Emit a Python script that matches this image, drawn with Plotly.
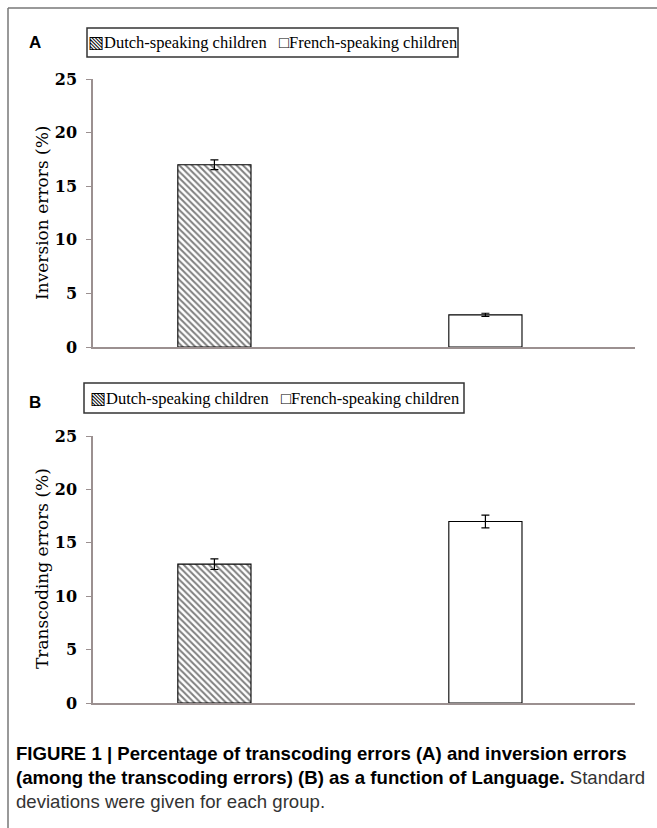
import plotly.graph_objects as go

# ---- data ----
groups = ["Dutch-speaking children", "French-speaking children"]
inversion_pct = [17.0, 3.0]
inversion_sd = [0.45, 0.15]
transcoding_pct = [13.0, 17.0]
transcoding_sd = [0.5, 0.6]
y_ticks = [0, 5, 10, 15, 20, 25]
patterns = ["\\", ""]

W, H = 657, 828


def px(x):
    return x / W


def py(y):
    return 1 - y / H


AXIS_COL = "#9b9090"
SERIF = "DejaVu Serif"

fig = go.Figure()

for vals, sds, ax in [(inversion_pct, inversion_sd, ("x", "y")),
                      (transcoding_pct, transcoding_sd, ("x2", "y2"))]:
    fig.add_trace(go.Bar(
        x=groups, y=vals, xaxis=ax[0], yaxis=ax[1], width=0.27,
        marker=dict(color="white", line=dict(color="black", width=1.1),
                    pattern=dict(shape=patterns, fgcolor="black", bgcolor="white",
                                 size=4.5, solidity=0.45)),
        error_y=dict(type="data", array=sds, visible=True, color="black",
                     thickness=1.2, width=4),
        showlegend=False, hoverinfo="skip"))

xcommon = dict(domain=[px(93), px(635)], range=[-0.448, 1.552], showticklabels=False,
               ticks="", showgrid=False, zeroline=False, showline=True,
               linecolor=AXIS_COL, linewidth=1.5, type="category", automargin=False)
ycommon = dict(range=[0, 25], tickvals=y_ticks, ticks="outside", ticklen=5,
               tickcolor=AXIS_COL, tickwidth=1.2, showline=True, linecolor=AXIS_COL,
               linewidth=1.5, showgrid=False, zeroline=False, ticklabelstandoff=6,
               automargin=False,
               tickfont=dict(family=SERIF, size=16, color="black", weight="bold"))

fig.update_layout(
    width=W, height=H, autosize=False,
    margin=dict(l=0, r=0, t=0, b=0, pad=0, autoexpand=False),
    paper_bgcolor="white", plot_bgcolor="white",
    xaxis=dict(xcommon, anchor="y"),
    yaxis=dict(ycommon, domain=[py(347), py(79)], anchor="x"),
    xaxis2=dict(xcommon, anchor="y2"),
    yaxis2=dict(ycommon, domain=[py(703), py(436)], anchor="x2"),
    bargap=0.5,
)

ann = []
shapes = []

# y-axis titles
ann.append(dict(text="Inversion errors (%)", x=px(42), y=py(213), xref="paper", yref="paper",
                textangle=-90, showarrow=False, xanchor="center", yanchor="middle",
                font=dict(family=SERIF, size=17, color="black")))
ann.append(dict(text="Transcoding errors (%)", x=px(42), y=py(569), xref="paper", yref="paper",
                textangle=-90, showarrow=False, xanchor="center", yanchor="middle",
                font=dict(family=SERIF, size=17, color="black")))

# panel letters
for letter, yy in [("A", 42), ("B", 403)]:
    ann.append(dict(text=f"<b>{letter}</b>", x=px(27), y=py(yy), xref="paper", yref="paper",
                    showarrow=False, xanchor="left", yanchor="middle",
                    font=dict(family="Liberation Sans", size=17, color="black")))

# legend boxes (drawn per panel)
leg_text = "▧" + groups[0] + "   □" + groups[1]
for (x0, x1, y0, y1) in [(87, 458, 28, 57), (84, 464, 383, 413)]:
    shapes.append(dict(type="rect", xref="paper", yref="paper", x0=px(x0), x1=px(x1),
                       y0=py(y1), y1=py(y0), line=dict(color="#333333", width=1.5),
                       fillcolor="white"))
    ann.append(dict(text=leg_text, x=px((x0 + x1) / 2), y=py((y0 + y1) / 2), xref="paper",
                    yref="paper", showarrow=False, xanchor="center", yanchor="middle",
                    font=dict(family="Liberation Serif", size=16.5, color="black")))

# outer frame
shapes.append(dict(type="line", xref="paper", yref="paper", x0=px(8), x1=px(8), y0=0, y1=py(8),
                   line=dict(color="#777777", width=1.5)))
shapes.append(dict(type="line", xref="paper", yref="paper", x0=px(8), x1=1, y0=py(8), y1=py(8),
                   line=dict(color="#777777", width=1.5)))

# caption
cap_font = dict(family="Liberation Sans", size=18.6, color="black")
ann.append(dict(text="<b>FIGURE 1 | Percentage of transcoding errors (A) and inversion errors</b>",
                x=px(14), y=py(753), xref="paper", yref="paper", showarrow=False,
                xanchor="left", yanchor="middle", font=cap_font))
ann.append(dict(text="<b>(among the transcoding errors) (B) as a function of Language.</b>"
                     " <span style='color:#333333'>Standard</span>",
                x=px(14), y=py(777), xref="paper", yref="paper", showarrow=False,
                xanchor="left", yanchor="middle", font=cap_font))
ann.append(dict(text="deviations were given for each group.",
                x=px(14), y=py(801), xref="paper", yref="paper", showarrow=False,
                xanchor="left", yanchor="middle", font=dict(cap_font, color="#333333")))

fig.update_layout(annotations=ann, shapes=shapes)
fig.write_html("out.html", config={"displayModeBar": False},
               post_script="document.body.style.margin='0';document.body.style.overflow='hidden';")
